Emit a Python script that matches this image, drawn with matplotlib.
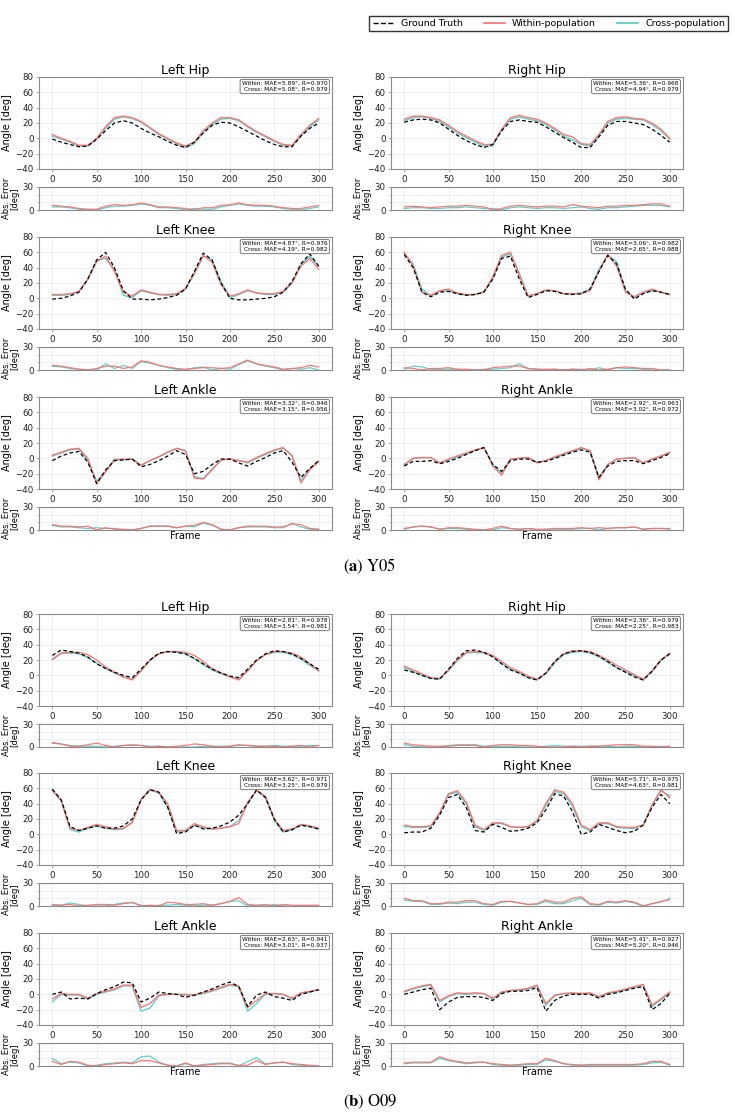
import numpy as np
import matplotlib
matplotlib.use("Agg")
import matplotlib.pyplot as plt
from matplotlib.lines import Line2D

# Data (frames sampled every 10)
# ______________________________

FRAMES = list(range(0, 301, 10))
JOINTS = ["Left Hip", "Right Hip", "Left Knee", "Right Knee", "Left Ankle", "Right Ankle"]

# Y05
Y05_LHIP_GT = [-1, -5, -8, -11, -10, -1, 10, 20, 23, 20, 13, 7, 2, -4, -9, -12, -5, 7, 17, 21, 20, 15, 9, 3, -3, -8, -11, -11, 3, 13, 20]
Y05_LHIP_WI = [5, 0, -4, -9, -9, 0, 15, 27, 29, 27, 22, 14, 6, 0, -6, -10, -5, 10, 20, 27, 27, 24, 16, 9, 3, -3, -8, -9, 5, 17, 26]
Y05_LHIP_CR = [3, -1, -5, -10, -10, -1, 13, 25, 28, 26, 21, 13, 5, -1, -7, -12, -7, 8, 18, 25, 26, 23, 15, 8, 2, -4, -9, -10, 3, 15, 24]

Y05_RHIP_GT = [21, 24, 25, 24, 20, 12, 4, -3, -8, -12, -8, 10, 22, 24, 22, 21, 15, 8, 1, -5, -12, -12, 2, 17, 22, 22, 20, 18, 12, 4, -5]
Y05_RHIP_WI = [25, 29, 29, 27, 24, 17, 9, 3, -3, -8, -8, 12, 27, 30, 27, 25, 20, 13, 5, 2, -7, -8, 5, 22, 27, 28, 26, 25, 20, 12, 0]
Y05_RHIP_CR = [23, 27, 28, 26, 22, 15, 7, 1, -5, -10, -10, 10, 25, 28, 25, 23, 18, 11, 3, -2, -8, -10, 3, 20, 25, 26, 25, 24, 18, 10, -1]

Y05_LKNEE_GT = [-1, 0, 3, 8, 25, 50, 60, 40, 10, -1, -1, -2, -1, 1, 4, 12, 35, 59, 50, 20, 0, -2, -2, -1, 0, 2, 8, 22, 45, 58, 42]
Y05_LKNEE_WI = [5, 5, 6, 9, 25, 48, 55, 35, 8, 3, 11, 8, 5, 5, 6, 13, 33, 56, 47, 18, 3, 6, 11, 7, 6, 6, 9, 20, 42, 52, 38]
Y05_LKNEE_CR = [4, 4, 5, 9, 25, 50, 52, 38, 4, 1, 10, 7, 5, 4, 5, 12, 32, 55, 50, 22, 1, 5, 10, 7, 5, 5, 8, 20, 44, 55, 42]

Y05_RKNEE_GT = [57, 40, 8, 2, 8, 9, 6, 4, 5, 8, 25, 52, 55, 25, 1, 5, 10, 9, 6, 5, 6, 12, 35, 56, 45, 12, -1, 6, 10, 8, 5]
Y05_RKNEE_WI = [60, 42, 8, 4, 10, 12, 7, 5, 5, 8, 28, 56, 60, 30, 3, 6, 11, 10, 6, 6, 6, 10, 35, 57, 42, 8, 2, 8, 12, 8, 5]
Y05_RKNEE_CR = [58, 45, 12, 3, 9, 10, 6, 4, 5, 9, 26, 54, 58, 33, 3, 6, 10, 10, 6, 6, 7, 12, 38, 56, 48, 10, 1, 7, 10, 8, 5]

Y05_LANK_GT = [-3, 3, 7, 9, -5, -33, -15, -3, -2, -1, -11, -8, -3, 3, 10, 5, -20, -17, -8, -1, -1, -6, -10, -4, 1, 7, 10, -5, -25, -13, -3]
Y05_LANK_WI = [4, 8, 12, 13, 0, -33, -18, -2, -1, -1, -9, -3, 2, 8, 13, 10, -26, -27, -15, -2, -1, -3, -5, 1, 6, 11, 14, 3, -32, -15, -4]
Y05_LANK_CR = [3, 7, 11, 12, -3, -30, -17, -1, -2, -1, -9, -3, 2, 8, 13, 10, -24, -26, -14, -2, -1, -3, -6, 0, 5, 10, 13, 4, -29, -14, -4]

Y05_RANK_GT = [-10, -4, -4, -3, -7, -4, 0, 5, 10, 14, -8, -17, -3, -1, -1, -5, -4, 0, 4, 8, 11, 8, -25, -10, -4, -3, -3, -7, -3, 1, 6]
Y05_RANK_WI = [-8, 0, 1, 1, -6, -1, 3, 7, 11, 14, -10, -22, -1, 0, 1, -6, -3, 2, 6, 10, 14, 10, -28, -8, -1, 0, 1, -6, -1, 3, 8]
Y05_RANK_CR = [-9, 0, 1, 1, -6, -2, 2, 6, 10, 14, -8, -20, -1, 0, 1, -5, -3, 1, 5, 9, 13, 10, -25, -8, -1, 0, 1, -6, -1, 3, 7]

# O09
O09_LHIP_GT = [26, 33, 31, 29, 24, 15, 9, 4, 0, -3, 8, 20, 29, 31, 30, 28, 22, 15, 8, 3, -1, -3, 8, 20, 28, 32, 31, 28, 22, 15, 8]
O09_LHIP_WI = [21, 29, 30, 30, 27, 20, 11, 4, -2, -6, 6, 20, 28, 31, 31, 30, 26, 18, 9, 3, -2, -6, 6, 19, 27, 31, 31, 29, 24, 15, 6]
O09_LHIP_CR = [20, 29, 29, 28, 23, 16, 9, 3, -2, -5, 6, 19, 28, 31, 30, 28, 22, 14, 7, 2, -2, -5, 6, 19, 27, 30, 30, 27, 21, 13, 6]

O09_RHIP_GT = [7, 4, 0, -4, -5, 8, 22, 32, 33, 30, 24, 15, 7, 3, -3, -6, 3, 18, 28, 31, 32, 30, 25, 18, 10, 4, -2, -6, 5, 20, 28]
O09_RHIP_WI = [12, 7, 2, -3, -4, 7, 20, 30, 31, 30, 26, 18, 10, 5, -1, -5, 3, 18, 28, 32, 32, 31, 26, 20, 13, 7, 1, -5, 6, 20, 29]
O09_RHIP_CR = [10, 5, 0, -4, -5, 6, 19, 29, 30, 29, 25, 16, 8, 3, -3, -6, 2, 16, 27, 30, 31, 29, 24, 17, 10, 5, -1, -6, 5, 19, 28]

O09_LKNEE_GT = [59, 45, 10, 5, 8, 11, 8, 8, 11, 20, 45, 58, 55, 35, 1, 3, 12, 7, 8, 11, 16, 25, 40, 58, 48, 20, 3, 6, 12, 10, 7]
O09_LKNEE_WI = [57, 44, 8, 5, 9, 13, 10, 7, 8, 15, 45, 59, 55, 40, 5, 5, 14, 10, 7, 8, 10, 14, 42, 57, 50, 20, 5, 7, 13, 11, 8]
O09_LKNEE_CR = [58, 44, 6, 3, 8, 11, 8, 6, 7, 16, 46, 58, 54, 36, 3, 4, 12, 8, 7, 8, 10, 18, 40, 57, 48, 18, 3, 6, 12, 10, 7]

O09_RKNEE_GT = [2, 3, 3, 8, 25, 48, 52, 35, 5, 3, 13, 9, 4, 5, 8, 15, 32, 53, 50, 30, 0, 3, 13, 9, 5, 2, 4, 12, 35, 52, 40]
O09_RKNEE_WI = [12, 10, 10, 11, 28, 53, 57, 42, 12, 6, 15, 15, 10, 9, 10, 18, 40, 58, 55, 40, 12, 6, 15, 15, 10, 9, 9, 12, 38, 58, 48]
O09_RKNEE_CR = [10, 9, 9, 10, 27, 52, 55, 40, 10, 5, 14, 14, 10, 9, 10, 17, 38, 56, 53, 37, 10, 5, 14, 14, 9, 8, 8, 12, 38, 57, 50]

O09_LANK_GT = [0, 3, -6, -5, -6, 1, 6, 10, 16, 15, -10, -5, 3, 1, 0, -4, -1, 3, 7, 12, 16, 10, -16, -1, 3, -3, -5, -8, 0, 3, 6]
O09_LANK_WI = [-6, 1, 0, 0, -5, 1, 4, 7, 12, 12, -17, -12, -1, 0, 0, 0, -1, 2, 5, 9, 13, 11, -17, -8, 1, 1, 0, -5, 2, 4, 6]
O09_LANK_CR = [-10, 0, -1, -1, -6, 0, 3, 6, 11, 11, -22, -18, -2, 0, 0, -1, -1, 1, 4, 8, 12, 10, -22, -12, 0, 1, 0, -6, 1, 3, 6]

O09_RANK_GT = [0, 3, 6, 8, -20, -10, -4, -3, -3, -4, -8, 1, 4, 4, 5, 9, -22, -8, -2, 0, 0, 0, -5, 0, 2, 5, 8, 10, -20, -12, 1]
O09_RANK_WI = [4, 8, 11, 13, -8, -2, 2, 1, 2, 1, -5, 3, 5, 6, 8, 12, -12, -1, 1, 2, 1, 2, -3, 2, 4, 7, 10, 13, -14, -6, 3]
O09_RANK_CR = [3, 7, 10, 12, -10, -3, 1, 0, 1, 1, -6, 2, 5, 5, 7, 11, -14, -2, 1, 1, 1, 1, -4, 1, 3, 6, 9, 12, -16, -7, 2]

# metrics: (within MAE, within R, cross MAE, cross R)
Y05_METRICS = [(5.89, 0.970, 5.08, 0.979), (5.36, 0.968, 4.94, 0.979),
               (4.87, 0.976, 4.19, 0.982), (3.06, 0.982, 2.65, 0.988),
               (3.32, 0.946, 3.15, 0.956), (2.92, 0.963, 3.02, 0.972)]
O09_METRICS = [(2.81, 0.978, 3.54, 0.981), (2.36, 0.979, 2.25, 0.983),
               (3.62, 0.971, 3.25, 0.979), (5.71, 0.975, 4.63, 0.981),
               (2.63, 0.941, 3.01, 0.937), (5.41, 0.927, 5.20, 0.946)]

Y05 = [(Y05_LHIP_GT, Y05_LHIP_WI, Y05_LHIP_CR), (Y05_RHIP_GT, Y05_RHIP_WI, Y05_RHIP_CR),
       (Y05_LKNEE_GT, Y05_LKNEE_WI, Y05_LKNEE_CR), (Y05_RKNEE_GT, Y05_RKNEE_WI, Y05_RKNEE_CR),
       (Y05_LANK_GT, Y05_LANK_WI, Y05_LANK_CR), (Y05_RANK_GT, Y05_RANK_WI, Y05_RANK_CR)]
O09 = [(O09_LHIP_GT, O09_LHIP_WI, O09_LHIP_CR), (O09_RHIP_GT, O09_RHIP_WI, O09_RHIP_CR),
       (O09_LKNEE_GT, O09_LKNEE_WI, O09_LKNEE_CR), (O09_RKNEE_GT, O09_RKNEE_WI, O09_RKNEE_CR),
       (O09_LANK_GT, O09_LANK_WI, O09_LANK_CR), (O09_RANK_GT, O09_RANK_WI, O09_RANK_CR)]

# Style
# _____

C_WI = "#FF6B6B"
C_CR = "#4ECDC4"
SPINE = "#8a8a8a"
W, H = 737, 1116

plt.rcParams["mathtext.fontset"] = "stix"
fig = plt.figure(figsize=(W / 100, H / 100), dpi=100)


def px(x0, y0, w, h):
    return [x0 / W, 1 - (y0 + h) / H, w / W, h / H]


def style(ax):
    for s in ax.spines.values():
        s.set_color(SPINE)
        s.set_linewidth(0.8)
    ax.tick_params(labelsize=6.2, length=2, width=0.5, color=SPINE, pad=2, labelcolor="#222")
    ax.grid(True, color="#dddddd", linewidth=0.4, alpha=0.7)
    ax.set_axisbelow(True)


COL_X = [39, 391]
COL_W = [293, 292]


def draw_block(data, metrics, tops):
    x = np.array(FRAMES)
    for i, (gt, wi, cr) in enumerate(data):
        r, c = divmod(i, 2)
        top = tops[r]
        gt, wi, cr = np.array(gt), np.array(wi), np.array(cr)

        ax = fig.add_axes(px(COL_X[c], top, COL_W[c], 92))
        style(ax)
        ax.plot(x, wi, color=C_WI, lw=1.0, alpha=0.9, zorder=2)
        ax.plot(x, cr, color=C_CR, lw=1.0, alpha=0.9, zorder=1)
        ax.plot(x, gt, color="black", lw=0.9, ls="--", dashes=(3, 2), zorder=3)
        ax.set_ylim(-40, 80)
        ax.set_yticks([-40, -20, 0, 20, 40, 60, 80])
        ax.set_xticks([0, 50, 100, 150, 200, 250, 300])
        ax.set_title(JOINTS[i], fontsize=9, pad=2)
        ax.set_ylabel("Angle [deg]", fontsize=7, labelpad=2)
        m = metrics[i]
        txt = (f"Within: MAE={m[0]:.2f}°, R={m[1]:.3f}\n"
               f"Cross: MAE={m[2]:.2f}°, R={m[3]:.3f}")
        ax.text(0.985, 0.955, txt, transform=ax.transAxes, ha="right", va="top",
                fontsize=4.2, multialignment="right",
                bbox=dict(boxstyle="round,pad=0.3", fc="white", ec="#666", lw=0.6))

        ex = fig.add_axes(px(COL_X[c], top + 110, COL_W[c], 23))
        style(ex)
        ex.plot(x, np.abs(wi - gt), color=C_WI, lw=0.9, alpha=0.9, zorder=2)
        ex.plot(x, np.abs(cr - gt), color=C_CR, lw=0.9, alpha=0.9, zorder=1)
        ex.set_xlim(ax.get_xlim())
        ex.set_ylim(0, 30)
        ex.set_yticks([0, 30])
        ex.set_yticks([10, 20], minor=True)
        ex.tick_params(which="minor", length=1.5, width=0.4, color=SPINE)
        ex.grid(True, which="both", axis="y", color="#dddddd", linewidth=0.4, alpha=0.7)
        ex.set_xticks([0, 50, 100, 150, 200, 250, 300])
        ex.tick_params(axis="x", labelbottom=False, length=0)
        ex.set_ylabel("Abs. Error\n[deg]", fontsize=6, labelpad=2, linespacing=1.0)
        if r == 2:
            ex.set_xlabel("Frame", fontsize=7, labelpad=1)


draw_block(Y05, Y05_METRICS, [77, 237, 397])
draw_block(O09, O09_METRICS, [614, 773, 933])

handles = [Line2D([], [], color="black", ls="--", lw=1.0),
           Line2D([], [], color=C_WI, lw=1.2),
           Line2D([], [], color=C_CR, lw=1.2)]
fig.legend(handles, ["Ground Truth", "Within-population", "Cross-population"],
           loc="upper right", bbox_to_anchor=(733 / W, 1 - 11 / H), ncol=3,
           fontsize=6.8, frameon=True, fancybox=False, edgecolor="black",
           handlelength=2.2, columnspacing=2.2, borderpad=0.35)

fig.text(370 / W, 1 - 566 / H, r"($\mathbf{a}$) Y05", ha="center", va="center",
         fontsize=12, family="STIXGeneral")
fig.text(370 / W, 1 - 1102 / H, r"($\mathbf{b}$) O09", ha="center", va="center",
         fontsize=12, family="STIXGeneral")

fig.savefig("out.png", dpi=100, facecolor="white")
